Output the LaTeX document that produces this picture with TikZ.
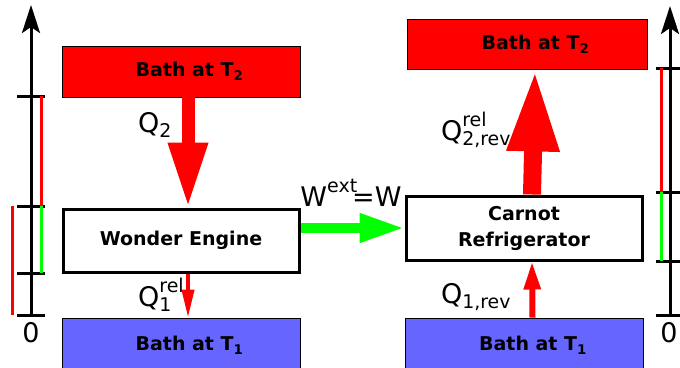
\documentclass[tikz,border=0pt]{standalone}
\usepackage{fontspec}
\setmainfont{DejaVu Sans}
\usetikzlibrary{arrows.meta}
\definecolor{bathhot}{HTML}{FF0000}
\definecolor{bathcold}{HTML}{6666FF}
\definecolor{workgreen}{HTML}{00FF00}
\newcommand{\supx}[1]{\raisebox{0.5em}{\fontsize{19}{19}\selectfont #1}}
\newcommand{\heat}[2]{Q\rlap{\supx{#1}}\textsubscript{#2}}
\newcommand{\bathtxt}[1]{\hspace*{17pt}Bath at T\textsubscript{#1}}

\begin{document}
\begin{tikzpicture}[x=1pt, y=-1pt,
      bath/.style={draw=black, line width=0.8pt, minimum width=238pt,
         font=\fontsize{19}{22}\selectfont\bfseries, inner sep=0pt},
      machine/.style={draw=black, line width=3pt, fill=white, minimum width=236pt,
         font=\fontsize{19}{26}\selectfont\bfseries, align=center, inner sep=0pt},
      lbl/.style={font=\fontsize{27}{32}\selectfont},
      axis/.style={line width=3pt, black},
      bar/.style={line width=3pt},
   ]
      \clip (0,0) rectangle (680,367);

      % left side: wonder engine
      \node[bath, fill=bathhot, minimum height=51pt] (hotL) at (181,71.5) {\bathtxt{2}};
      \node[machine, minimum height=63pt] (engine) at (181,240.5) {Wonder Engine};
      \node[bath, fill=bathcold, minimum height=54pt] (coldL) at (181,345) {\bathtxt{1}};

      % right side: carnot refrigerator
      \node[bath, fill=bathhot, minimum height=50pt, minimum width=240pt] (hotR) at (527,44) {\bathtxt{2}};
      \node[machine, minimum height=64pt] (fridge) at (524,228) {Carnot\\Refrigerator};
      \node[bath, fill=bathcold, minimum height=54pt] (coldR) at (524.5,345) {\bathtxt{1}};

      % heat flows
      \draw[bathhot, line width=13pt, -{Triangle[length=65pt, width=37pt]}]
         ([xshift=7pt]hotL.south) -- ([xshift=7pt]engine.north);
      \draw[bathhot, line width=4pt, -{Triangle[length=28pt, width=12pt]}]
         ([xshift=7pt]engine.south) -- ([xshift=7pt]coldL.north);
      \draw[bathhot, line width=18pt, -{Triangle[length=82pt, width=48pt]}]
         ([xshift=8pt]fridge.north) -- ([xshift=8pt]hotR.south);
      \draw[bathhot, line width=6pt, -{Triangle[length=28pt, width=16pt]}]
         ([xshift=8pt]coldR.north) -- ([xshift=8pt]fridge.south);

      % work
      \draw[workgreen, line width=10pt, -{Triangle[length=45pt, width=27pt]}]
         (engine.east |- fridge.west) -- (fridge.west);

      % labels
      \node[lbl] (q2) at (155,125) {Q\textsubscript{2}};
      \node[lbl] (q1) at (155,295) {\heat{rel}{1}};
      \node[lbl] (w) at (351,193) {W\supx{ext}\kern-5pt=W};
      \node[lbl] (q2r) at (476,130) {\heat{rel}{2,rev}};
      \node[lbl] (q1r) at (476,297) {Q\textsubscript{1,rev}};

      % left energy axis
      \draw[axis, -{Stealth[length=28pt, width=18pt, inset=6pt]}] (31,315) -- (31,5);
      \foreach \y in {96,206,273,315}
         \draw[axis] (17,\y) -- (45,\y);
      \draw[bar, bathhot] (41,96) -- (41,206);
      \draw[bar, workgreen] (41,206) -- (41,273);
      \draw[bar, bathhot] (12,206) -- (12,315);
      \node[lbl] (zeroL) at (31,333) {0};

      % right energy axis
      \draw[axis, -{Stealth[length=28pt, width=18pt, inset=6pt]}] (670,315) -- (670,6);
      \foreach \y in {68,192,261,315}
         \draw[axis] (656,\y) -- (684,\y);
      \draw[bar, bathhot] (661,68) -- (661,192);
      \draw[bar, workgreen] (661,192) -- (661,261);
      \node[lbl] (zeroR) at (669,333) {0};
   \end{tikzpicture}
\end{document}
